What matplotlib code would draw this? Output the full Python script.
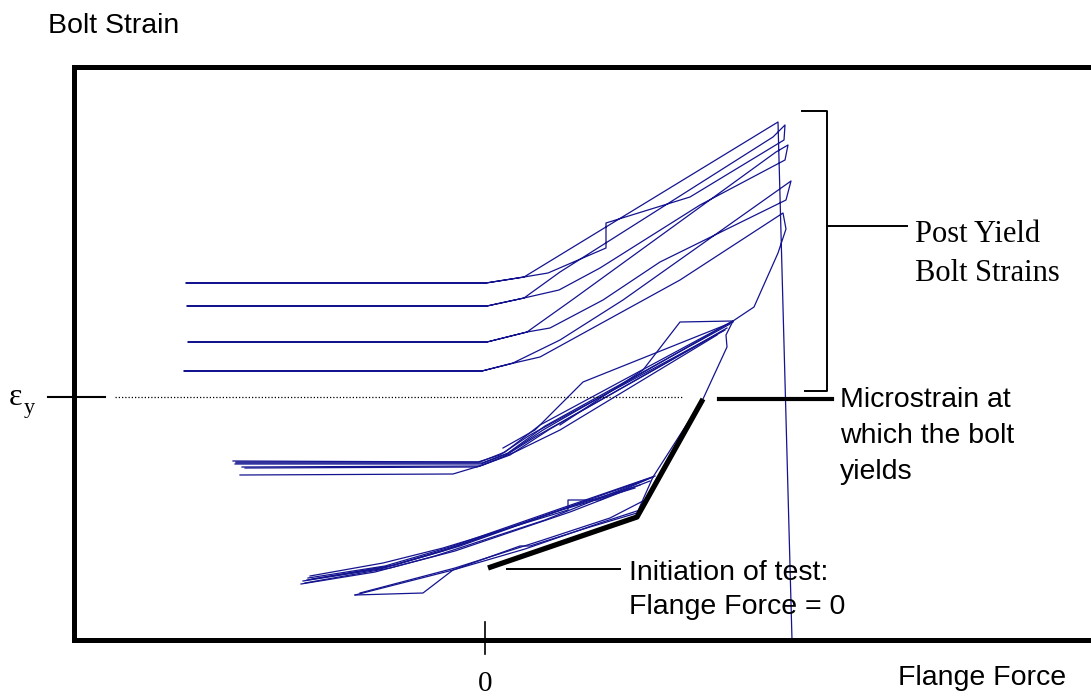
import numpy as np
import matplotlib
matplotlib.use("Agg")
import matplotlib.pyplot as plt

# flange force (x) vs bolt strain (y), arbitrary units, force = 0 at the tick
eps_y = 243
dotted_range = [-370, 198]

# first loading cycles, below yield
bottom_1 = np.array([(-182, 59), (-105, 71), (-42, 89), (75, 130), (168, 163)])
bottom_2 = np.array([(-177, 62), (-100, 74), (-35, 93), (80, 133), (170, 164)])
bottom_3 = np.array([(-180, 57), (-95, 72), (-30, 89), (85, 128), (165, 159)])
bottom_4 = np.array([(-175, 64), (-102, 77), (-42, 92), (83, 130), (83, 140), (115, 140), (168, 163)])
bottom_5 = np.array([(-173, 61), (-90, 75), (-25, 94), (90, 135), (155, 155)])
bottom_6 = np.array([(-184, 56), (-110, 68), (-50, 84), (60, 120), (160, 160)])
bottom_7 = np.array([(-178, 60), (-98, 73), (-38, 91), (70, 128), (150, 152)])
lower_1 = np.array([(-130, 45), (-62, 47), (-32, 70), (35, 94), (45, 94), (105, 113), (152, 127), (168, 163)])
lower_2 = np.array([(-130, 45), (-32, 70), (40, 91), (115, 117), (155, 130)])
lower_3 = np.array([(-125, 47), (-30, 72), (55, 99), (125, 122), (160, 140)])
transition = np.array([(168, 163), (218, 241), (242, 293), (241, 305), (248, 319)])

# cycles reaching yield
middle_1 = np.array([(-252, 179), (-5, 178), (20, 188), (55, 215), (248, 319)])
middle_2 = np.array([(-249, 177), (-3, 177), (23, 187), (60, 214), (245, 316)])
middle_3 = np.array([(-243, 173), (-5, 174), (25, 185), (65, 211), (242, 312)])
middle_4 = np.array([(-245, 165), (-32, 166), (-2, 175), (30, 188), (75, 210), (232, 305)])
middle_5 = np.array([(18, 192), (50, 210), (98, 258), (248, 318)])
middle_6 = np.array([(75, 215), (158, 270), (195, 318), (248, 319)])
middle_7 = np.array([(-249, 178), (-7, 178), (15, 185), (45, 205), (240, 310)])
middle_8 = np.array([(-250, 176), (-4, 176), (22, 186), (58, 210), (246, 318)])
middle_9 = np.array([(-240, 172), (-8, 173), (18, 183), (50, 203), (238, 309)])

# post yield loops and final unload
post_yield = np.array([
    (248, 319), (269, 333), (293, 387), (301, 411), (298, 427),
    (195, 360), (55, 283), (29, 277), (-3, 269), (-301, 269),
    (-3, 269), (28, 277), (75, 300), (138, 340), (306, 459),
    (301, 440), (175, 378), (118, 340), (65, 312), (42, 308), (2, 298), (-297, 298),
    (2, 298), (42, 308), (87, 340), (291, 488), (303, 495),
    (300, 480), (215, 435), (115, 372), (74, 350), (39, 342), (2, 334), (-298, 334),
    (2, 334), (39, 342), (75, 368), (288, 503), (300, 515),
    (299, 500), (205, 443), (121, 417), (121, 392), (63, 367), (39, 363), (1, 357), (-299, 357),
    (1, 357), (39, 363), (293, 518), (307, 0),
])

# highlighted path from test start to yield
initiation = np.array([(3, 72), (152, 123), (218, 241)])

blue = "#141490"
sans = "Liberation Sans"
serif = "Liberation Serif"

fig = plt.figure(figsize=(10.91, 6.96), dpi=100)
ax = fig.add_axes([74 / 1091, 56 / 696, 1017 / 1091, 573 / 696])
ax.set_xlim(-411, 606)
ax.set_ylim(0, 573)
ax.set_xticks([])
ax.set_yticks([])
for side in ["left", "top", "bottom"]:
    ax.spines[side].set_linewidth(3.6)
    ax.spines[side].set_capstyle("projecting")
ax.spines["right"].set_visible(False)

curves = [bottom_1, bottom_2, bottom_3, bottom_4, bottom_5, bottom_6, bottom_7,
          lower_1, lower_2, lower_3, transition,
          middle_1, middle_2, middle_3, middle_4, middle_5, middle_6, middle_7,
          middle_8, middle_9, post_yield]
for c in curves:
    ax.plot(c[:, 0], c[:, 1], color=blue, lw=0.9, clip_on=False)

ax.plot(initiation[:, 0], initiation[:, 1], color="black", lw=3.8, solid_capstyle="butt")

# yield level
ax.plot(dotted_range, [eps_y, eps_y], color="black", lw=0.9, linestyle=(0, (1, 1.6)))
ax.plot([-437, -380], [eps_y, eps_y], color="black", lw=1.5, clip_on=False)
ax.text(-476, eps_y - 8, "ε", fontsize=23, family=serif, va="baseline")
ax.text(-461, eps_y - 16, "y", fontsize=16, family=serif, va="baseline")

# zero tick
ax.plot([0, 0], [18, -14], color="black", lw=1.2, clip_on=False)
ax.text(0, -44, "0", fontsize=21, family=serif, ha="center", va="center")

# axis titles
ax.text(-437, 607, "Bolt Strain", fontsize=20.5, family=sans, va="baseline")
ax.text(413, -45, "Flange Force", fontsize=20.5, family=sans, va="baseline")

# bracket for post yield
ax.plot([317, 342, 342, 320], [529, 529, 249, 249], color="black", lw=1.4)
ax.plot([342, 422], [414, 414], color="black", lw=1.4)
ax.text(430, 398, "Post Yield", fontsize=22, family=serif, va="baseline")
ax.text(430, 359, "Bolt Strains", fontsize=22, family=serif, va="baseline")

# yield annotation
ax.plot([234, 347], [241, 241], color="black", lw=3.0)
ax.text(355, 233, "Microstrain at", fontsize=20.5, family=sans, va="baseline")
ax.text(355, 197, "which the bolt", fontsize=20.5, family=sans, va="baseline")
ax.text(355, 161, "yields", fontsize=20.5, family=sans, va="baseline")

# start annotation
ax.plot([22, 135], [71, 71], color="black", lw=1.4)
ax.text(144, 60, "Initiation of test:", fontsize=20.5, family=sans, va="baseline")
ax.text(144, 26, "Flange Force = 0", fontsize=20.5, family=sans, va="baseline")

fig.savefig("out.png", dpi=100)
